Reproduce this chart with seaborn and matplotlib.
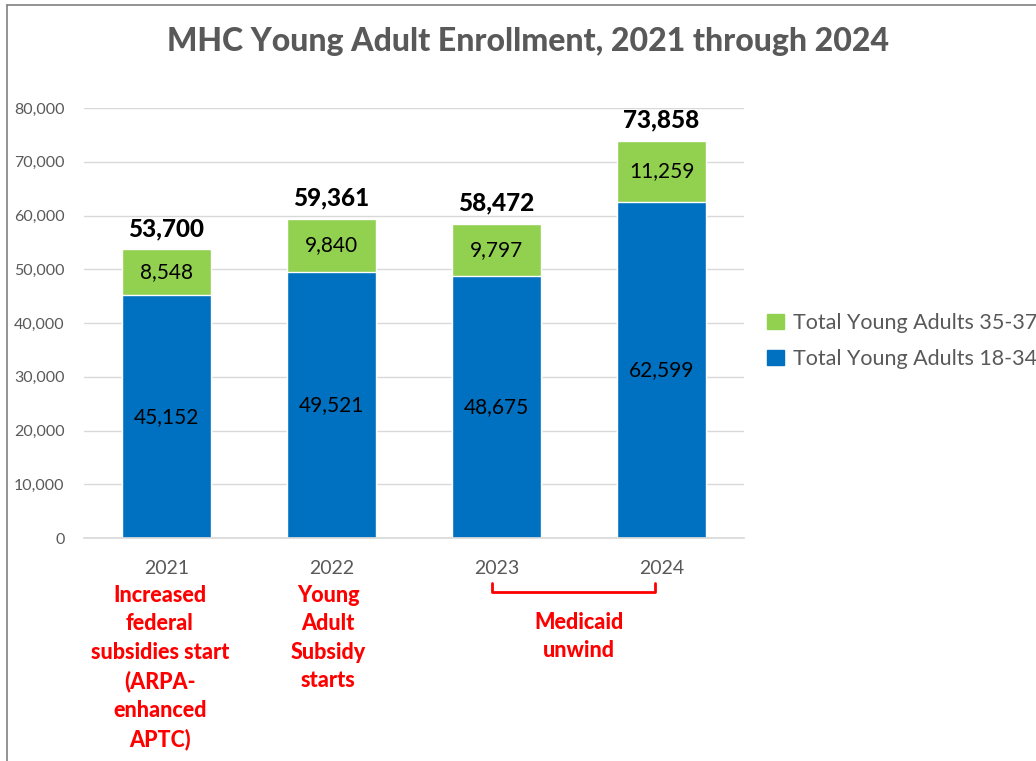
import matplotlib
matplotlib.use("Agg")
import matplotlib.pyplot as plt
from matplotlib.lines import Line2D
import seaborn as sns
import pandas as pd

years = ["2021", "2022", "2023", "2024"]
adults_18_34 = [45152, 49521, 48675, 62599]
adults_35_37 = [8548, 9840, 9797, 11259]
totals = [53700, 59361, 58472, 73858]
series_names = ["Total Young Adults 18-34", "Total Young Adults 35-37"]
yticks = [0, 10000, 20000, 30000, 40000, 50000, 60000, 70000, 80000]
notes = ["Increased\nfederal\nsubsidies start\n(ARPA-\nenhanced\nAPTC)",
         "Young\nAdult\nSubsidy\nstarts"]
medicaid_note = "Medicaid\nunwind"
title = "MHC Young Adult Enrollment, 2021 through 2024"

BLUE = "#0070C0"
GREEN = "#92D050"
GRAY = "#595959"
RED = "#FF0000"

sns.set_theme(style="white")
plt.rcParams["font.family"] = ["Lato", "DejaVu Sans"]

fig = plt.figure(figsize=(10.36, 7.61), dpi=100)
ax = fig.add_axes([84/1036, 1-538/761, (744-84)/1036, (538-108)/761])

df = pd.DataFrame({"year": years, "a": adults_18_34, "b": adults_35_37})
df["tot"] = df["a"] + df["b"]

sns.barplot(data=df, x="year", y="tot", color=GREEN, width=0.535, ax=ax,
            saturation=1)
sns.barplot(data=df, x="year", y="a", color=BLUE, width=0.535, ax=ax,
            saturation=1)
if ax.get_legend() is not None:
    ax.get_legend().remove()

ax.set_ylim(0, 80000)
ax.set_xlim(-0.5, 3.5)
ax.set_yticks(yticks)
ax.set_yticklabels([f"{v:,}" for v in yticks])
ax.set_xlabel("")
ax.set_ylabel("")
ax.grid(axis="y", color="#D9D9D9", linewidth=1)
ax.set_axisbelow(True)
for s in ["top", "right", "left"]:
    ax.spines[s].set_visible(False)
ax.spines["bottom"].set_color("#D9D9D9")
ax.tick_params(axis="y", labelsize=11.5, labelcolor=GRAY, length=0, pad=14)
ax.tick_params(axis="x", labelsize=14, labelcolor=GRAY, length=0, pad=16)

for i in range(len(years)):
    ax.text(i, adults_18_34[i] / 2, f"{adults_18_34[i]:,}", ha="center",
            va="center", fontsize=15, color="black")
    ax.text(i, adults_18_34[i] + adults_35_37[i] / 2, f"{adults_35_37[i]:,}",
            ha="center", va="center", fontsize=15, color="black")
    ax.annotate(f"{totals[i]:,}", xy=(i, totals[i]), xytext=(0, 15),
                textcoords="offset points", ha="center", va="center",
                fontsize=17.5, fontweight="black", color="black")

tr = ax.get_xaxis_transform()
def yfrac(p):
    return (538 - p) / 430

ax.text(-0.04, yfrac(585), notes[0], transform=tr, ha="center", va="top",
        color=RED, fontsize=15.5, fontweight="black", linespacing=1.44)
ax.text(0.98, yfrac(585), notes[1], transform=tr, ha="center", va="top",
        color=RED, fontsize=15.5, fontweight="black", linespacing=1.44)
ax.text(2.5, yfrac(612), medicaid_note, transform=tr, ha="center", va="top",
        color=RED, fontsize=15.5, fontweight="black", linespacing=1.44)
bx = [1.97, 1.97, 2.96, 2.96]
by = [yfrac(583), yfrac(592), yfrac(592), yfrac(583)]
ax.add_line(Line2D(bx, by, transform=tr, color=RED, linewidth=2,
                   clip_on=False))

fig.text(528/1036, 1-42/761, title, ha="center", va="center", fontsize=23,
         fontweight="black", color=GRAY)

handles = [plt.Rectangle((0, 0), 1, 1, color=GREEN),
           plt.Rectangle((0, 0), 1, 1, color=BLUE)]
leg = fig.legend(handles, [series_names[1], series_names[0]],
                 loc="center left", bbox_to_anchor=(748/1036, 1-341/761),
                 frameon=False, fontsize=15.5, handlelength=0.75,
                 handleheight=0.75, handletextpad=0.45, labelspacing=0.75)
for t in leg.get_texts():
    t.set_color(GRAY)

fig.add_artist(Line2D([7/1036, 1.0], [1-5/761, 1-5/761], color="#808080",
                      linewidth=1.2))
fig.add_artist(Line2D([7/1036, 7/1036], [0, 1-5/761], color="#808080",
                      linewidth=1.2))

fig.savefig("out.png", dpi=100)
